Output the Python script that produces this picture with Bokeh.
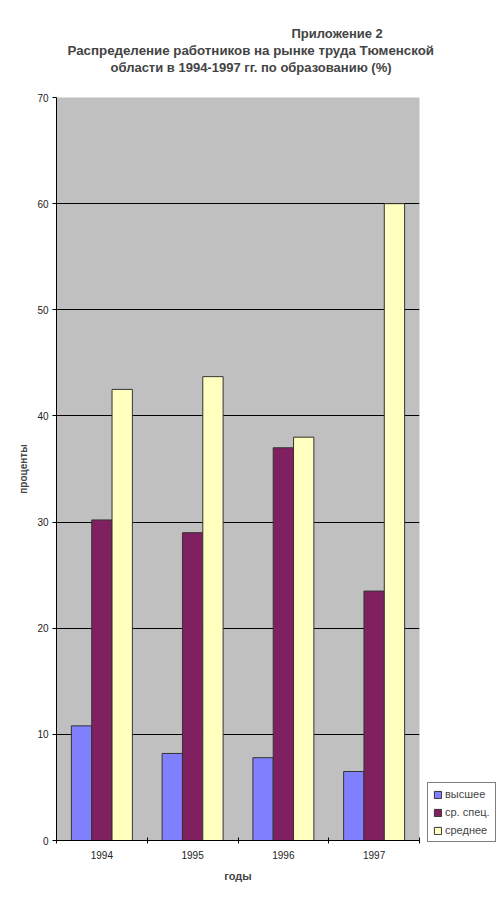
from bokeh.plotting import figure
from bokeh.models import ColumnDataSource, FixedTicker, Title, Legend, LegendItem, Range1d
from bokeh.transform import dodge
from bokeh.embed import file_html
from bokeh.resources import INLINE
import numpy as np

years = ["1994", "1995", "1996", "1997"]
higher = [10.8, 8.2, 7.8, 6.5]          # высшее
spec = [30.2, 29.0, 37.0, 23.5]         # ср. спец.
secondary = [42.5, 43.7, 38.0, 60.0]    # среднее
series_names = ["высшее", "ср. спец.", "среднее"]
y_ticks = [0, 10, 20, 30, 40, 50, 60, 70]

centers = list(np.arange(len(years)) + 0.5)
src = ColumnDataSource(dict(x=centers, higher=higher, spec=spec, secondary=secondary))

FONT = "Liberation Sans"

p = figure(frame_width=363, frame_height=743,
           min_border_left=56, min_border_right=77, min_border_top=97, min_border_bottom=61,
           x_range=Range1d(0, len(years)), y_range=Range1d(0, 70),
           output_backend="svg", toolbar_location=None,
           background_fill_color="#c0c0c0", border_fill_color="white")
p.outline_line_color = None

bw = 0.224
cols = ["#8080ff", "#802060", "#ffffc0"]
keys = ["higher", "spec", "secondary"]
offs = [-bw, 0, bw]
renderers = []
for k, c, o in zip(keys, cols, offs):
    r = p.vbar(x=dodge("x", o), top=k, width=bw, bottom=0, source=src,
               fill_color=c, line_color="#333333", line_width=1)
    renderers.append(r)

# grid
p.xgrid.grid_line_color = None
p.ygrid.grid_line_color = "black"
p.ygrid.grid_line_width = 1
p.ygrid.ticker = FixedTicker(ticks=y_ticks)

# y axis
p.yaxis.ticker = FixedTicker(ticks=y_ticks)
p.yaxis.axis_label = "проценты"
p.yaxis.axis_label_text_font = FONT
p.yaxis.axis_label_text_font_style = "bold"
p.yaxis.axis_label_text_font_size = "10px"
p.yaxis.axis_label_standoff = 5
p.yaxis.major_label_text_font = FONT
p.yaxis.major_label_text_font_size = "10px"
p.yaxis.major_label_text_color = "#222222"
p.yaxis.major_label_standoff = 4
p.yaxis.major_tick_in = 0
p.yaxis.major_tick_out = 4
p.yaxis.major_tick_line_color = "black"
p.yaxis.minor_tick_line_color = None
p.yaxis.axis_line_color = "black"

# x axis
p.xaxis.ticker = FixedTicker(ticks=centers, minor_ticks=list(range(len(years) + 1)))
p.xaxis.major_label_overrides = {c: y for c, y in zip(centers, years)}
p.xaxis.axis_label = "годы"
p.xaxis.axis_label_text_font = FONT
p.xaxis.axis_label_text_font_style = "bold"
p.xaxis.axis_label_text_font_size = "11px"
p.xaxis.axis_label_standoff = 8
p.xaxis.major_label_text_font = FONT
p.xaxis.major_label_text_font_size = "10px"
p.xaxis.major_label_text_color = "#222222"
p.xaxis.major_label_standoff = 7
p.xaxis.major_tick_line_color = None
p.xaxis.major_tick_in = 0
p.xaxis.major_tick_out = 0
p.xaxis.minor_tick_line_color = "black"
p.xaxis.minor_tick_in = 3
p.xaxis.minor_tick_out = 3
p.xaxis.axis_line_color = "black"

# titles (last added is topmost); a blank title keeps the gap above the frame
spacer = Title(text=" ", align="left", text_font=FONT, text_font_size="13px",
               text_font_style="bold", standoff=6)
t3 = Title(text="области в 1994-1997 гг. по образованию (%)", align="left", offset=54,
           text_font=FONT, text_font_size="13px", text_font_style="bold", standoff=0)
t2 = Title(text="Распределение работников на рынке труда Тюменской", align="left", offset=11,
           text_font=FONT, text_font_size="13.3px", text_font_style="bold", standoff=0)
t1 = Title(text="Приложение 2", align="left", offset=235,
           text_font=FONT, text_font_size="13px", text_font_style="bold", standoff=0)
p.add_layout(spacer, "above")
p.add_layout(t3, "above")
p.add_layout(t2, "above")
p.add_layout(t1, "above")

legend = Legend(items=[LegendItem(label=n, renderers=[r]) for n, r in zip(series_names, renderers)],
                location=(8, -2), margin=0, padding=5, spacing=6,
                glyph_width=9, glyph_height=9, label_height=12, label_standoff=3,
                label_text_font=FONT, label_text_font_size="11px",
                border_line_color="black", border_line_width=1,
                background_fill_color="white", background_fill_alpha=1)
p.add_layout(legend, "right")

open("out.html", "w").write(file_html(p, INLINE))
